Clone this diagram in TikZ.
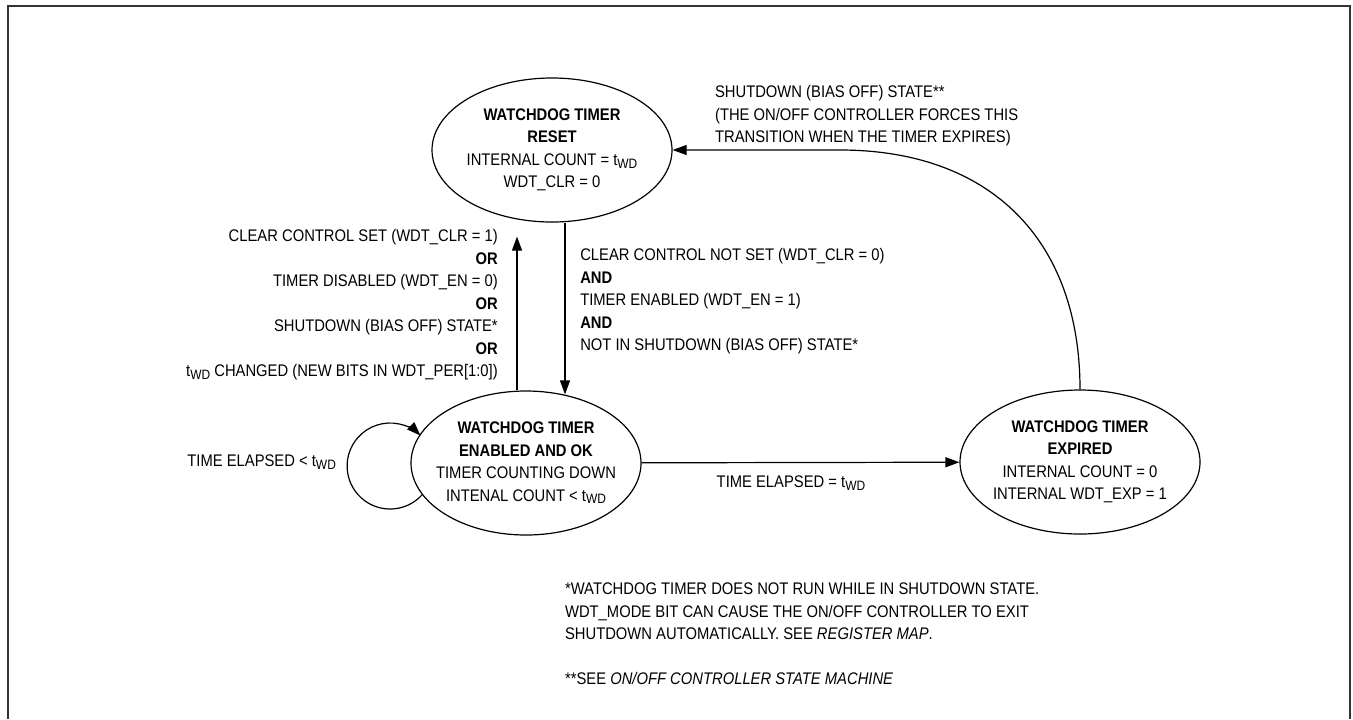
\documentclass[tikz,border=0pt]{standalone}
\usepackage{fontspec}
\setmainfont{Liberation Sans}[FakeStretch=0.88]
\usetikzlibrary{shapes.geometric, positioning, arrows.meta}
\newcommand{\wdfont}{\fontsize{8.4}{11.25}\selectfont}
\newcommand{\twd}{t\raisebox{-0.3ex}{\fontsize{6.8}{7}\selectfont WD}}
\tikzset{>={Triangle[length=7pt,width=5pt]}, % Filled arrow heads
wdstate/.style={ % Sets the properties for each state
draw, ellipse, line width=0.6pt,
minimum width=120pt, minimum height=72pt,
inner xsep=-6pt, inner ysep=0pt, align=center},
every edge/.style={ % Sets the properties for each transition
draw, ->, line width=0.6pt}}

\begin{document}
\begin{tikzpicture}[x=0.5pt, y=-0.5pt, font=\wdfont]
    \useasboundingbox (0,0) rectangle (1353,719);
    \draw[line width=1pt, black!80] (8,719) -- (8,6) -- (1350,6) -- (1350,719);

    \node[wdstate] (reset) at (552,150) {\textbf{WATCHDOG TIMER}\\\textbf{RESET}\\INTERNAL COUNT = \twd\\WDT\_CLR = 0};
    \node[wdstate, minimum width=115pt] (enabled) at (526,463) {\textbf{WATCHDOG TIMER}\\\textbf{ENABLED AND OK}\\TIMER COUNTING DOWN\\INTENAL COUNT < \twd};
    \node[wdstate] (expired) at (1080,462) {\textbf{WATCHDOG TIMER}\\\textbf{EXPIRED}\\INTERNAL COUNT = 0\\INTERNAL WDT\_EXP = 1};

    \coordinate (up) at (517,0);
    \coordinate (down) at (565,0);
    \coordinate (bend) at (840,150);

    \draw (enabled.north -| up) edge[shorten >=7pt] node[pos=0.51, left=6pt, align=right] {CLEAR CONTROL SET (WDT\_CLR = 1)\\\textbf{OR}\\TIMER DISABLED (WDT\_EN = 0)\\\textbf{OR}\\SHUTDOWN (BIAS OFF) STATE*\\\textbf{OR}\\\twd{} CHANGED (NEW BITS IN WDT\_PER[1:0])} (reset.south -| up);
    \draw (reset.south -| down) edge[shorten >=-2pt] node[pos=0.47, right=4pt, align=left] {CLEAR CONTROL NOT SET (WDT\_CLR = 0)\\\textbf{AND}\\TIMER ENABLED (WDT\_EN = 1)\\\textbf{AND}\\NOT IN SHUTDOWN (BIAS OFF) STATE*} (enabled.north -| down);
    \draw (enabled) edge node[pos=0.47, below=3pt] {TIME ELAPSED = \twd} (expired);
    \draw[->, line width=0.6pt] (enabled.197) arc[start angle=-42, end angle=-315, radius=21.5pt];
    \draw[->, line width=0.6pt] (expired.north) .. controls +(0,-150) and +(150,0) .. (bend) -- (reset.east);

    \node[anchor=east] (loopnote) at (343,462) {TIME ELAPSED < \twd};
    \node[anchor=west, align=left] (shutnote) at (708,116) {SHUTDOWN (BIAS OFF) STATE**\\(THE ON/OFF CONTROLLER FORCES THIS\\TRANSITION WHEN THE TIMER EXPIRES)};
    \node[anchor=west, align=left] (footnote) at (558,634) {*WATCHDOG TIMER DOES NOT RUN WHILE IN SHUTDOWN STATE.\\WDT\_MODE BIT CAN CAUSE THE ON/OFF CONTROLLER TO EXIT\\SHUTDOWN AUTOMATICALLY. SEE \textit{REGISTER MAP}.\\[11.25pt]**SEE \textit{ON/OFF CONTROLLER STATE MACHINE}};

\end{tikzpicture}
\end{document}
